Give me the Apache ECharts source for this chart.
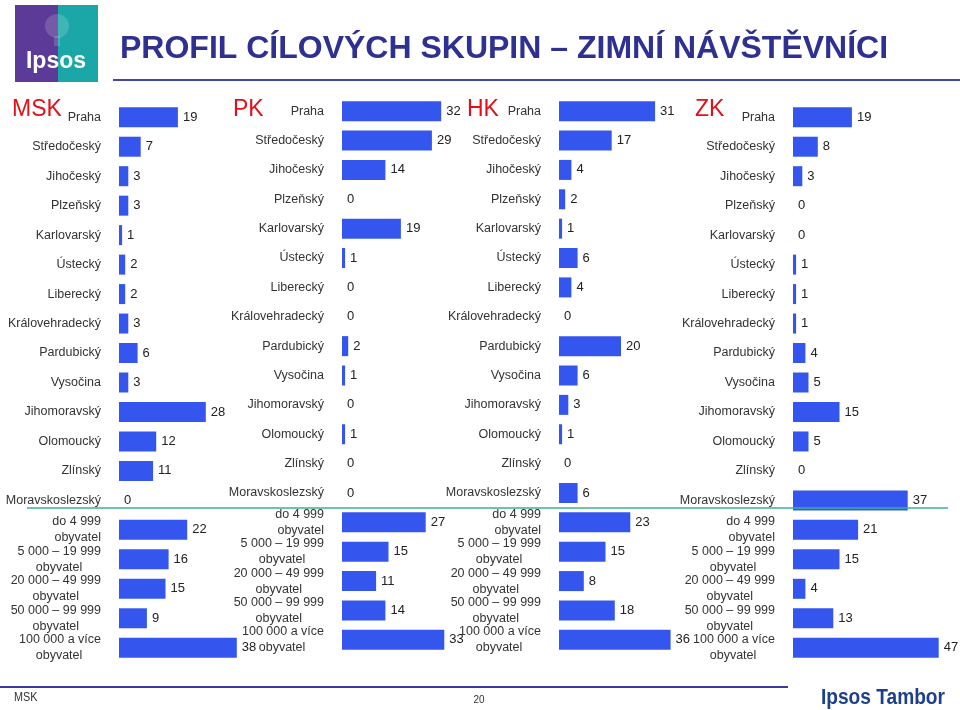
<!DOCTYPE html>
<html>
<head>
<meta charset="utf-8">
<title>Profil cílových skupin – zimní návštěvníci</title>
<script src="https://cdn.jsdelivr.net/npm/echarts@6/dist/echarts.min.js"></script>
<style>
  html, body { margin: 0; padding: 0; background: #fff; }
  #chart { width: 960px; height: 710px; }
</style>
</head>
<body>
<div id="chart"></div>
<script>
// regions, then town sizes
var regions = ["Praha", "Středočeský", "Jihočeský", "Plzeňský", "Karlovarský", "Ústecký",
  "Liberecký", "Královehradecký", "Pardubický", "Vysočina", "Jihomoravský", "Olomoucký",
  "Zlínský", "Moravskoslezský"];
var sizes = ["do 4 999\nobyvatel", "5 000 – 19 999\nobyvatel", "20 000 – 49 999\nobyvatel",
  "50 000 – 99 999\nobyvatel", "100 000 a více\nobyvatel"];
var categories = regions.concat(sizes);

var panels = ["MSK", "PK", "HK", "ZK"];
var msk = [19, 7, 3, 3, 1, 2, 2, 3, 6, 3, 28, 12, 11, 0, 22, 16, 15, 9, 38];
var pk = [32, 29, 14, 0, 19, 1, 0, 0, 2, 1, 0, 1, 0, 0, 27, 15, 11, 14, 33];
var hk = [31, 17, 4, 2, 1, 6, 4, 0, 20, 6, 3, 1, 0, 6, 23, 15, 8, 18, 36];
var zk = [19, 8, 3, 0, 0, 1, 1, 1, 4, 5, 15, 5, 0, 37, 21, 15, 4, 13, 47];

var FONT = "Arial, 'Liberation Sans', sans-serif";
var BAR = "#3456ee";

var chartDom = document.getElementById("chart");
var myChart = echarts.init(chartDom);

// layout of the four panels
var grids = [
  { left: 119, top: 102.5, width: 155, height: 560 },
  { left: 342, top: 96.5, width: 155, height: 558 },
  { left: 559, top: 96.5, width: 155, height: 558 },
  { left: 793, top: 102.5, width: 155, height: 560 }
];

function catLabel(v) {
  if (v.indexOf("\n") < 0) return v;
  var parts = v.split("\n");
  if (parts[0] === "do 4 999") return "{a|" + parts[0] + "}\n{a|" + parts[1] + "}";
  return "{a|" + parts[0] + "}\n{b|" + parts[1] + "}";
}

var series = [msk, pk, hk, zk].map(function (d, i) {
  return {
    name: panels[i],
    type: "bar",
    xAxisIndex: i,
    yAxisIndex: i,
    barWidth: 20,
    itemStyle: { color: BAR },
    label: {
      show: true,
      position: "right",
      distance: 5,
      fontFamily: FONT,
      fontSize: 13,
      color: "#222"
    },
    data: d
  };
});

var option = {
  animation: false,
  grid: grids,
  xAxis: grids.map(function (g, i) {
    return { type: "value", gridIndex: i, min: 0, max: 50, show: false };
  }),
  yAxis: grids.map(function (g, i) {
    return {
      type: "category",
      gridIndex: i,
      inverse: true,
      data: categories,
      axisLine: { show: false },
      axisTick: { show: false },
      splitLine: { show: false },
      axisLabel: {
        interval: 0,
        margin: 18,
        fontFamily: FONT,
        fontSize: 12.5,
        color: "#333",
        formatter: catLabel,
        rich: {
          a: { fontFamily: FONT, fontSize: 12.5, color: "#333", lineHeight: 16 },
          b: { fontFamily: FONT, fontSize: 12.5, color: "#333", lineHeight: 16, width: 84, align: "center" }
        }
      }
    };
  }),
  graphic: [
    // logo
    { type: "rect", shape: { x: 15, y: 5, width: 43, height: 77 }, style: { fill: "#5b3b97" } },
    { type: "rect", shape: { x: 58, y: 5, width: 40, height: 77 }, style: { fill: "#1ba7a8" } },
    { type: "circle", shape: { cx: 57, cy: 26, r: 12 }, style: { fill: "rgba(255,255,255,0.16)" } },
    { type: "rect", shape: { x: 54, y: 36, width: 6, height: 10 }, style: { fill: "rgba(255,255,255,0.16)" } },
    { type: "text", x: 56, y: 62, style: { text: "Ipsos", fill: "#fff", font: "bold 23px " + FONT, align: "center", verticalAlign: "middle" } },
    // title
    { type: "text", x: 120, y: 49, style: { text: "PROFIL CÍLOVÝCH SKUPIN – ZIMNÍ NÁVŠTĚVNÍCI", fill: "#2e3192", font: "bold 32px " + FONT, verticalAlign: "middle" } },
    { type: "line", shape: { x1: 113, y1: 80, x2: 960, y2: 80 }, style: { stroke: "#4346a8", lineWidth: 2 } },
    // panel names
    { type: "text", x: 12, y: 110, style: { text: "MSK", fill: "#e3101a", font: "23px " + FONT, verticalAlign: "middle" } },
    { type: "text", x: 233, y: 110, style: { text: "PK", fill: "#e3101a", font: "23px " + FONT, verticalAlign: "middle" } },
    { type: "text", x: 467, y: 110, style: { text: "HK", fill: "#e3101a", font: "23px " + FONT, verticalAlign: "middle" } },
    { type: "text", x: 695, y: 110, style: { text: "ZK", fill: "#e3101a", font: "23px " + FONT, verticalAlign: "middle" } },
    // separator between regions and town size
    { type: "line", z: 10, shape: { x1: 27, y1: 508, x2: 948, y2: 508 }, style: { stroke: "#3db08c", lineWidth: 1.5 } },
    // footer
    { type: "line", shape: { x1: 0, y1: 687, x2: 788, y2: 687 }, style: { stroke: "#3b3b9c", lineWidth: 2 } },
    { type: "text", x: 14, y: 698, scaleX: 0.9, style: { text: "MSK", fill: "#333", font: "12px " + FONT, verticalAlign: "middle" } },
    { type: "text", x: 479, y: 700, scaleX: 0.9, style: { text: "20", fill: "#333", font: "11px " + FONT, align: "center", verticalAlign: "middle" } },
    { type: "text", x: 945, y: 698, scaleX: 0.87, style: { text: "Ipsos Tambor", fill: "#1d3f8c", font: "bold 22px " + FONT, align: "right", verticalAlign: "middle" } }
  ],
  series: series
};

myChart.setOption(option);
window.addEventListener("resize", myChart.resize);
</script>
</body>
</html>
